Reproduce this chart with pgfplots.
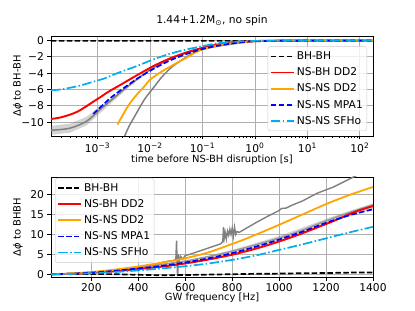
\documentclass[border=0pt]{standalone}
\usepackage{fontspec}
\setmainfont{DejaVu Sans}
\usepackage{pgfplots}
\pgfplotsset{compat=1.18}
\definecolor{mplorange}{HTML}{FFA500}
\definecolor{mplgrid}{HTML}{B0B0B0}
\newcommand{\fs}{\fontsize{10.7bp}{12.8bp}\selectfont}
\newcommand{\ls}[1]{\rule{0pt}{10.6bp}\raisebox{1.2bp}{#1}}
\pgfplotsset{
  mpl/.style={
    scale only axis, width=322bp, height=100bp,
    tick align=outside, tick pos=left,
    major tick length=3.5bp, minor tick length=2bp,
    tick style={black, line width=0.8bp},
    minor tick style={black, line width=0.6bp},
    axis line style={black, line width=0.8bp},
    grid=major, major grid style={color=mplgrid, line width=0.8bp},
    tick label style={font=\fs},
    label style={font=\fs},
    title style={font=\fs},
    every axis y label/.style={at={(axis description cs:-0.1025,0.5)}, rotate=90, anchor=center},
    every axis x label/.style={at={(axis description cs:0.5,-0.21)}, anchor=center},
    legend cell align=left,
    legend image code/.code={\draw[##1] (0bp,0bp) -- (23bp,0bp);},
    legend style={font=\fs, draw=black!20, rounded corners=2.5bp, fill=white, fill opacity=0.8, text opacity=1,
      inner xsep=2bp, inner ysep=2bp},
  },
  dashedmpl/.style={dash pattern=on 5.5bp off 2.4bp},
  dashdotmpl/.style={dash pattern=on 9.6bp off 2.4bp on 1.5bp off 2.4bp},
}
\begin{document}
\begin{tikzpicture}
\useasboundingbox (0,0) rectangle (415bp,311bp);
% ---------------- top axis ----------------
\begin{axis}[mpl, at={(51bp,175bp)}, anchor=south west,
  xmode=log, xmin=1.3e-4, xmax=178, ymin=-11.7, ymax=0.55,
  xtick={1e-3,1e-2,1e-1,1,10,100},
  xticklabels={10\textsuperscript{−3},10\textsuperscript{−2},10\textsuperscript{−1},10\textsuperscript{0},10\textsuperscript{1},10\textsuperscript{2}},
  minor xtick={2e-4,3e-4,4e-4,5e-4,6e-4,7e-4,8e-4,9e-4,
    2e-3,3e-3,4e-3,5e-3,6e-3,7e-3,8e-3,9e-3,
    0.02,0.03,0.04,0.05,0.06,0.07,0.08,0.09,
    0.2,0.3,0.4,0.5,0.6,0.7,0.8,0.9,
    2,3,4,5,6,7,8,9,20,30,40,50,60,70,80,90},
  ytick={-10,-8,-6,-4,-2,0},
  yticklabels={−10,−8,−6,−4,−2,0},
  title={1.44+1.2M\textsubscript{⊙}, no spin},
  title style={at={(axis description cs:0.5,1.09)}, anchor=center},
  xlabel={time before NS-BH disruption [s]},
  x label style={at={(axis description cs:0.5,-0.235)}},
  ylabel={Δ\textit{ϕ} to BH-BH},
  legend style={at={(axis description cs:1,0)}, anchor=south east, xshift=-6bp, yshift=5bp},
]
% gray band
\addplot[fill=gray, fill opacity=0.35, draw=none, forget plot] coordinates {
(1.3e-4,-10.45) (2.95e-4,-10.2) (6.17e-4,-9.35) (1.1e-3,-8.1) (2e-3,-6.85) (4e-3,-5.4) (1e-2,-3.55)
(1e-2,-3.7) (4e-3,-5.7) (2e-3,-7.45) (1.1e-3,-8.95) (6.17e-4,-10.4) (2.95e-4,-11.3) (1.3e-4,-11.55)} -- cycle;
% gray band centre line
\addplot[gray, line width=1.5bp, smooth, forget plot] coordinates {
(1.3e-4,-11.0) (2.95e-4,-10.75) (6.17e-4,-9.9) (1.1e-3,-8.5) (2e-3,-7.1) (4e-3,-5.5) (1e-2,-3.6)
(3e-2,-2.0) (0.1,-1.0) (0.3,-0.4) (1,-0.1) (10,-0.02) (79.4,0)};
% gray steep curve
\addplot[gray, line width=1.5bp, smooth, forget plot] coordinates {
(3.3e-3,-11.7) (4e-3,-10.5) (5.1e-3,-9.3) (7.9e-3,-7.2) (1.23e-2,-5.6) (1.78e-2,-4.3)
(3.16e-2,-2.85) (0.1,-1.1) (1,-0.1) (10,0)};
% BH-BH
\addplot[black, line width=1.7bp, dashedmpl] coordinates {(1.3e-4,-0.05) (1,-0.05) (178,-0.02)};
\addlegendentry{\ls{BH-BH}}
% NS-BH DD2
\addplot[red, line width=1.9bp, smooth] coordinates {
(1.3e-4,-9.62) (1.9e-4,-9.45) (2.95e-4,-9.1) (4.2e-4,-8.7) (6.17e-4,-8.05) (8.3e-4,-7.5) (1.1e-3,-7.0)
(1.6e-3,-6.3) (2.63e-3,-5.5) (5.5e-3,-4.3) (1.15e-2,-3.15) (2.4e-2,-2.2) (5e-2,-1.45) (0.1,-0.9)
(0.19,-0.5) (0.38,-0.22) (1,-0.07) (3,-0.02) (10,0) (178,0)};
\addlegendentry{\ls{NS-BH DD2}}
% NS-NS DD2
\addplot[mplorange, line width=1.8bp, smooth] coordinates {
(2.4e-3,-10.3) (3.8e-3,-8.06) (5.5e-3,-6.7) (7.9e-3,-5.6) (1e-2,-4.8) (1.78e-2,-3.7) (3.16e-2,-2.8)
(5e-2,-2.1) (8.9e-2,-1.2) (0.2,-0.6) (0.38,-0.32) (1,-0.1) (3,-0.03) (10,0) (178,0)};
\addlegendentry{\ls{NS-NS DD2}}
% NS-NS MPA1
\addplot[blue, line width=1.7bp, dashedmpl, smooth] coordinates {
(8.3e-4,-9.0) (1e-3,-8.5) (1.29e-3,-7.85) (1.8e-3,-7.0) (2.63e-3,-6.2) (5.5e-3,-4.75) (1.15e-2,-3.5)
(2.4e-2,-2.45) (5e-2,-1.65) (0.1,-1.05) (0.21,-0.6) (0.5,-0.25) (1,-0.1) (10,-0.01) (178,0)};
\addlegendentry{\ls{NS-NS MPA1}}
% NS-NS SFHo
\addplot[cyan, line width=1.7bp, dashdotmpl, smooth] coordinates {
(1.3e-4,-6.1) (2e-4,-6.0) (2.95e-4,-5.8) (4.5e-4,-5.55) (6.17e-4,-5.3) (1e-3,-4.9) (1.29e-3,-4.7)
(2.63e-3,-3.9) (5.5e-3,-3.15) (1.15e-2,-2.33) (2.4e-2,-1.63) (5e-2,-1.1) (0.1,-0.7) (0.21,-0.3)
(0.5,-0.12) (1,-0.05) (10,0) (178,0)};
\addlegendentry{\ls{NS-NS SFHo}}
\end{axis}
% ---------------- bottom axis ----------------
\begin{axis}[mpl, at={(51bp,34bp)}, anchor=south west,
  xmin=28, xmax=1400, ymin=-0.7, ymax=24.4,
  xtick={200,400,600,800,1000,1200,1400},
  xticklabels={200,400,600,800,1000,1200,1400},
  ytick={0,5,10,15,20},
  yticklabels={0,5,10,15,20},
  xlabel={GW frequency [Hz]},
  ylabel={Δ\textit{ϕ} to BHBH},
  legend style={at={(axis description cs:0,1)}, anchor=north west, xshift=4bp, yshift=-1bp},
]
% gray band
\addplot[fill=gray, fill opacity=0.35, draw=none, forget plot] coordinates {
(400,2.0) (500,2.6) (600,3.5) (700,4.6) (800,6.1) (900,7.8) (1000,9.6) (1100,11.7) (1200,13.9) (1300,15.9) (1400,17.8)
(1400,16.4) (1300,14.6) (1200,12.5) (1100,10.3) (1000,8.2) (900,6.4) (800,4.9) (700,3.6) (600,2.6) (500,1.8) (400,1.2)} -- cycle;
\addplot[gray!80, line width=1.4bp, smooth, forget plot] coordinates {
(28,0) (200,0.45) (400,1.75) (600,3.3) (800,5.8) (1000,9.1) (1100,11.1) (1200,13.4) (1300,15.5) (1400,17.4)};
% gray noisy curve
\addplot[gray, line width=1.4bp, forget plot] coordinates {
(28,0) (100,0.15) (200,0.5) (300,1.0) (400,1.8) (450,2.3) (500,2.9) (530,3.3) (550,3.4) (560,3.8) (563,8.4)
(566,1.0) (568,-0.5) (570,5) (573,3.2) (580,4.5) (590,3.8) (600,4.7) (620,5.0) (650,5.6) (700,6.6)
(750,7.6) (760,8.2) (763,11.8) (766,9) (770,10.5) (775,8.8) (780,10.8) (785,9.8) (790,11.3) (795,10.0)
(800,11.5) (805,9.5) (810,11.8) (815,10.0) (820,10.7) (830,10.5) (850,11.2) (900,12.9) (950,14.5)
(1000,16.0) (1010,16.5) (1030,16.6) (1050,17.2) (1100,18.4) (1161,20.3) (1232,21.9) (1317,24.4) (1400,26.8)};
% BH-BH
\addplot[black, line width=1.7bp, dashedmpl, smooth] coordinates {
(28,0) (200,0.05) (300,0) (400,-0.15) (500,-0.25) (600,-0.2) (700,-0.1) (800,0.0) (900,0.1)
(1000,0.15) (1100,0.25) (1200,0.3) (1300,0.4) (1400,0.45)};
\addlegendentry{\ls{BH-BH}}
\addplot[red, line width=1.9bp, smooth] coordinates {
(28,0) (100,0.08) (200,0.35) (300,0.75) (400,1.3) (500,1.9) (600,2.7) (700,3.7) (800,4.9) (900,6.4)
(1000,8.2) (1100,10.3) (1200,12.6) (1250,13.8) (1300,15.1) (1350,16.2) (1400,17.1)};
\addlegendentry{\ls{NS-BH DD2}}
\addplot[mplorange, line width=1.8bp, smooth] coordinates {
(28,0) (100,0.15) (200,0.55) (300,1.15) (400,1.95) (500,2.9) (600,4.0) (700,5.5) (800,7.6) (850,8.7)
(900,9.9) (1000,12.4) (1100,15.0) (1200,17.6) (1300,19.9) (1400,21.9)};
\addlegendentry{\ls{NS-NS DD2}}
\addplot[blue, line width=1.7bp, dashedmpl, smooth] coordinates {
(28,0) (100,0.1) (200,0.4) (300,0.85) (400,1.45) (500,2.1) (600,2.95) (700,4.0) (800,5.3) (900,6.9)
(1000,8.7) (1100,10.7) (1200,12.9) (1300,14.8) (1400,16.3)};
\addlegendentry{\ls{NS-NS MPA1}}
\addplot[cyan, line width=1.7bp, dashdotmpl, smooth] coordinates {
(28,0) (100,0.05) (200,0.25) (300,0.55) (400,0.95) (500,1.45) (600,2.0) (700,2.7) (800,3.6) (900,4.7)
(1000,6.1) (1100,7.5) (1200,9.0) (1300,10.5) (1400,11.9)};
\addlegendentry{\ls{NS-NS SFHo}}
\end{axis}
\end{tikzpicture}
\end{document}
